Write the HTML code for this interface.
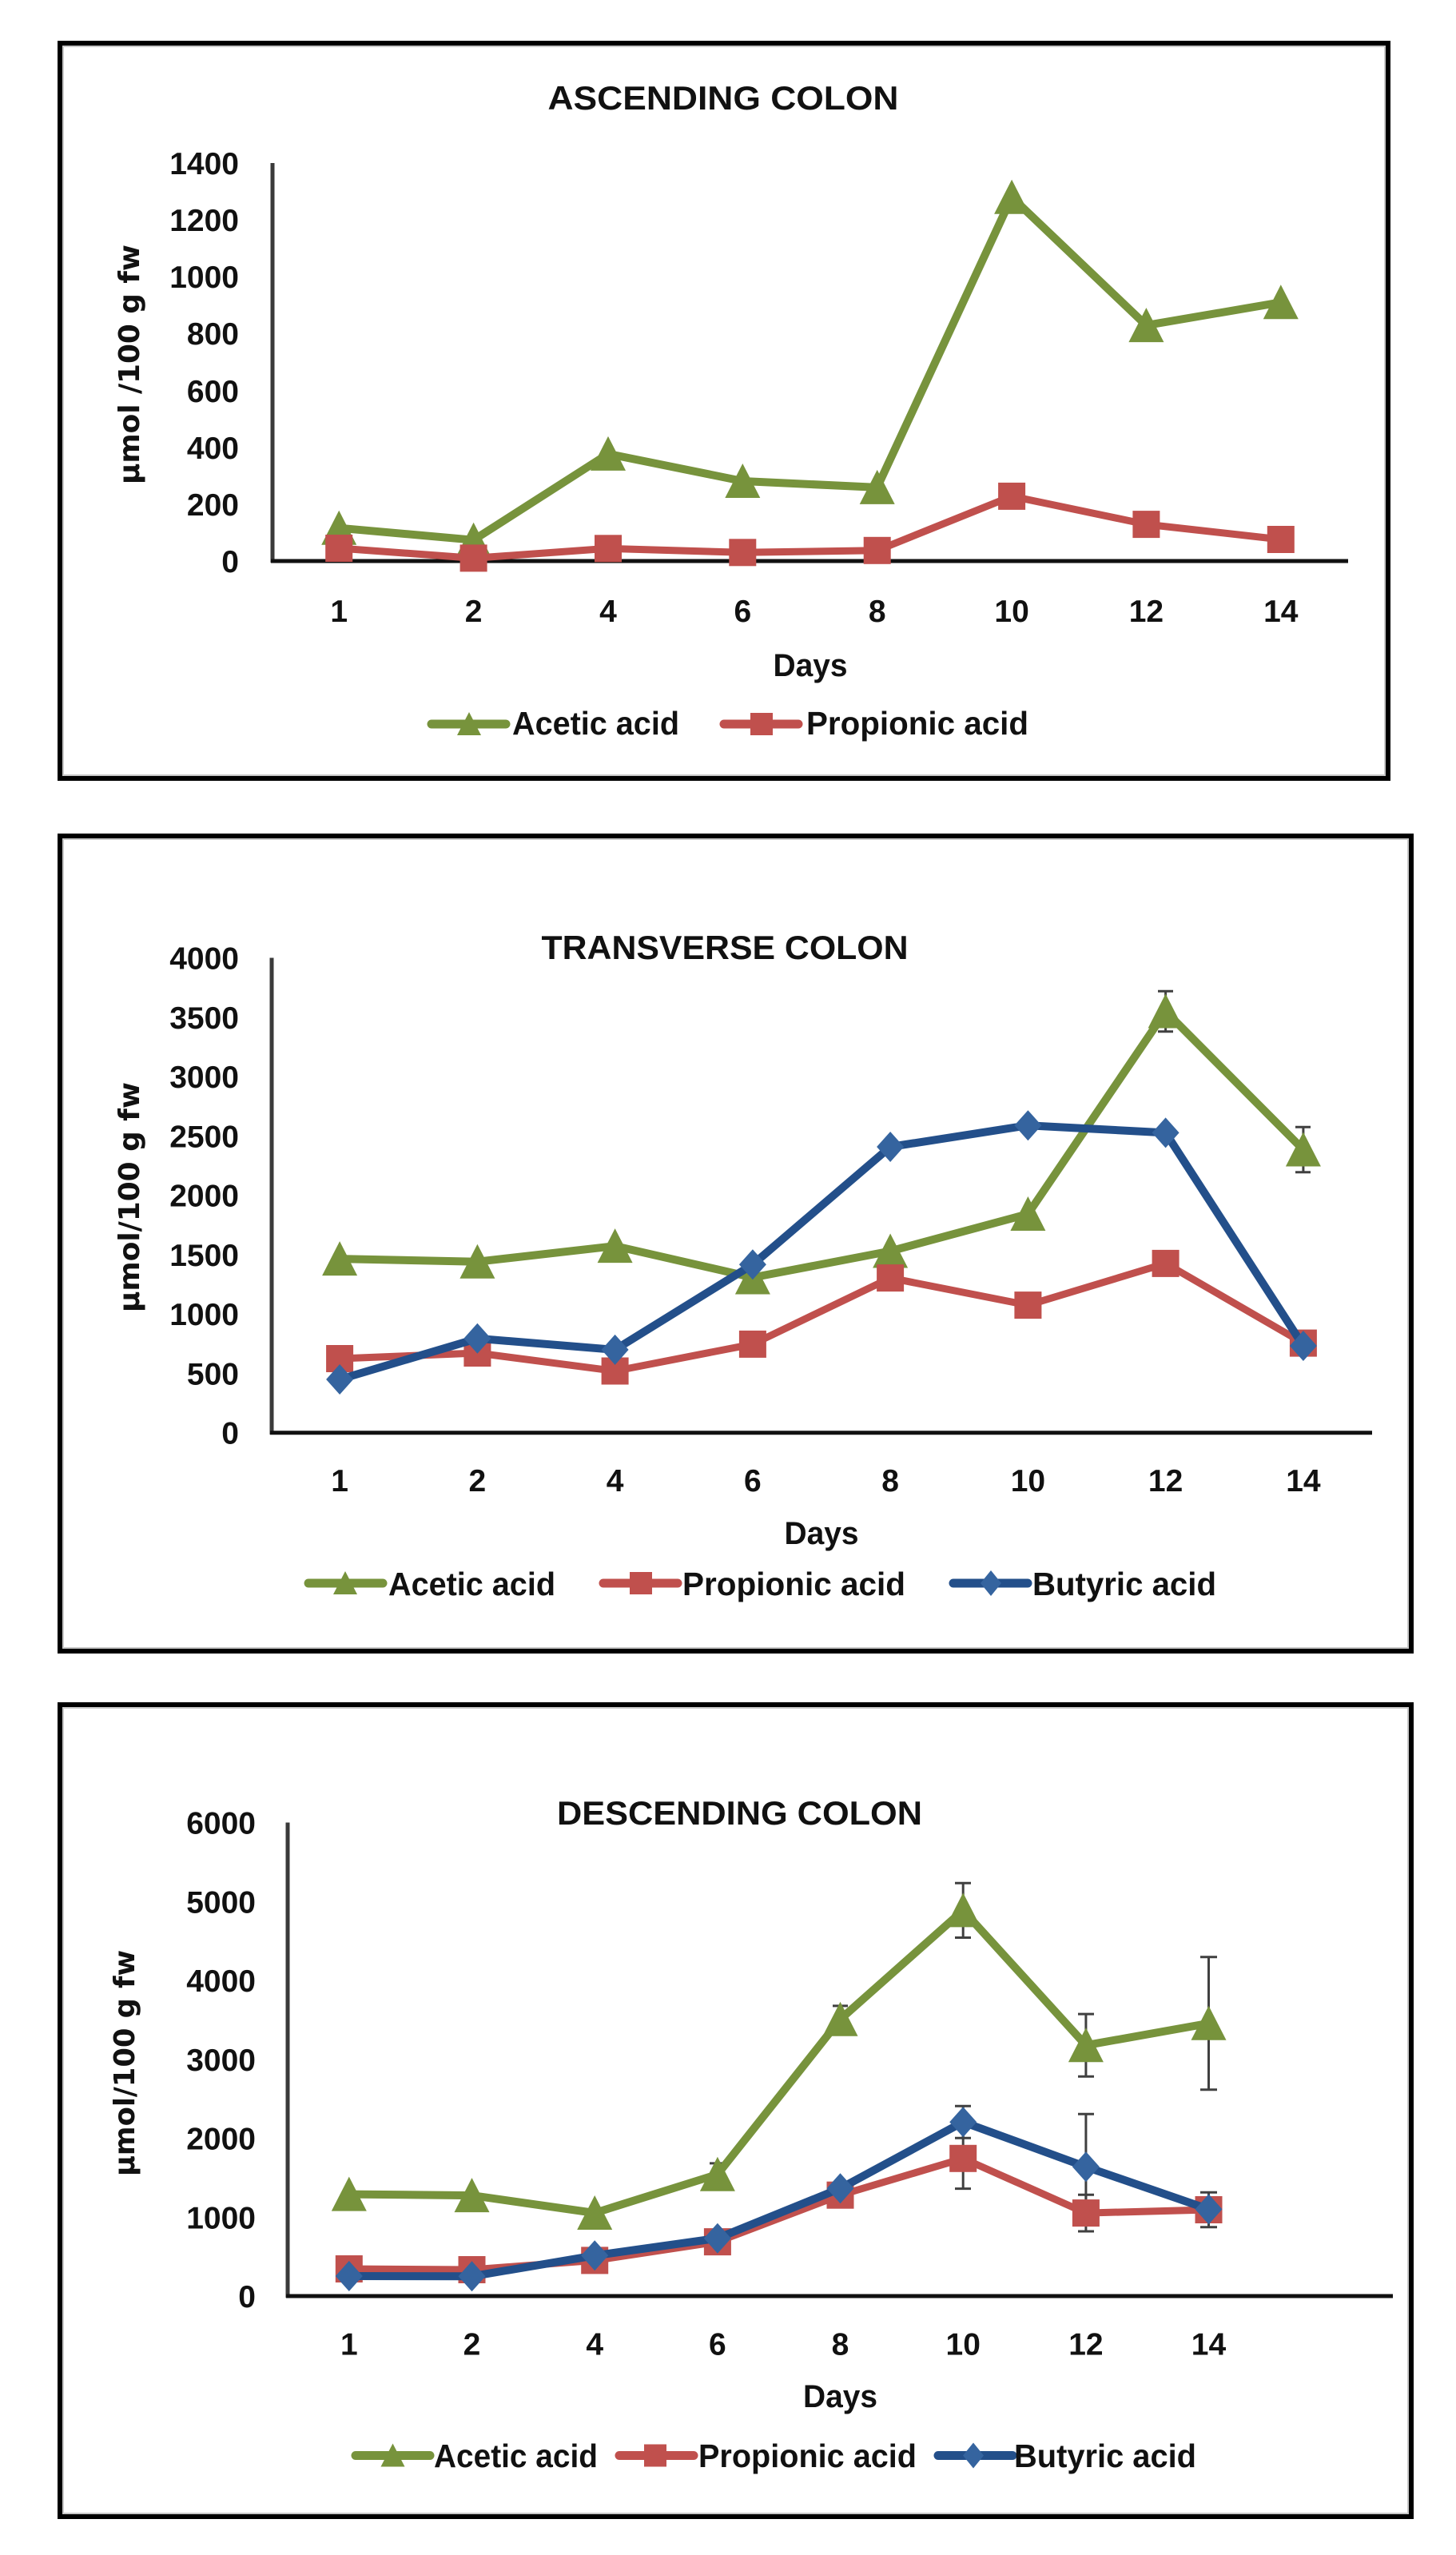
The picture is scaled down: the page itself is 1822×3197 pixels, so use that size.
<!DOCTYPE html>
<html>
<head>
<meta charset="utf-8">
<style>
html,body{margin:0;padding:0;background:#fff;}
svg{display:block;}
.t{font-family:"Liberation Sans",Arial,sans-serif;font-weight:bold;fill:#111;}
.yl{font-family:"DejaVu Sans","Liberation Sans",sans-serif;font-weight:bold;fill:#111;}
</style>
</head>
<body>
<svg width="1822" height="3197" viewBox="0 0 1822 3197" xmlns="http://www.w3.org/2000/svg">
<defs>
<path id="tri" d="M0,-22 L22,21 L-22,21Z"/>
<rect id="sq" x="-17" y="-17" width="34" height="34"/>
<path id="dia" d="M0,-19 L17,0 L0,19 L-17,0Z"/>
<path id="tril" d="M0,-15 L15,14 L-15,14Z"/>
<rect id="sql" x="-14" y="-14" width="28" height="28"/>
<path id="dial" d="M0,-16 L13,0 L0,16 L-13,0Z"/>
</defs>
<rect width="1822" height="3197" fill="#fff"/>

<!-- ================= PANEL 1 ================= -->
<rect x="79" y="58" width="1654" height="912" fill="none" stroke="#c8c8c8" stroke-width="2"/>
<rect x="75" y="54" width="1662" height="920" fill="none" stroke="#000" stroke-width="6"/>
<text class="t" x="905" y="137" font-size="42" text-anchor="middle" textLength="439" lengthAdjust="spacingAndGlyphs">ASCENDING COLON</text>
<line x1="341" y1="204" x2="341" y2="704" stroke="#3a3a3a" stroke-width="5"/>
<line x1="339" y1="702" x2="1687" y2="702" stroke="#111" stroke-width="5"/>
<g class="t" font-size="39" text-anchor="end">
<text x="299" y="716">0</text>
<text x="299" y="645">200</text>
<text x="299" y="574">400</text>
<text x="299" y="503">600</text>
<text x="299" y="431">800</text>
<text x="299" y="360">1000</text>
<text x="299" y="289">1200</text>
<text x="299" y="218">1400</text>
</g>
<g class="t" font-size="39" text-anchor="middle">
<text x="424.2" y="778">1</text>
<text x="592.6" y="778">2</text>
<text x="761.0" y="778">4</text>
<text x="929.3" y="778">6</text>
<text x="1097.7" y="778">8</text>
<text x="1266.1" y="778">10</text>
<text x="1434.4" y="778">12</text>
<text x="1602.8" y="778">14</text>
</g>
<text class="t" x="1014" y="846" font-size="40" text-anchor="middle" textLength="93" lengthAdjust="spacingAndGlyphs">Days</text>
<text class="yl" transform="translate(174,456) rotate(-90)" font-size="36" text-anchor="middle" textLength="300" lengthAdjust="spacingAndGlyphs">μmol /100 g fw</text>
<polyline points="424.2,660.7 592.6,675.7 761.0,567.9 929.3,602.0 1097.7,609.9 1266.1,246.7 1434.4,407.1 1602.8,378.3" fill="none" stroke="#77933C" stroke-width="10" stroke-linejoin="round"/>
<g fill="#77933C">
<use href="#tri" x="424.2" y="660.7"/><use href="#tri" x="592.6" y="675.7"/><use href="#tri" x="761.0" y="567.9"/><use href="#tri" x="929.3" y="602.0"/><use href="#tri" x="1097.7" y="609.9"/><use href="#tri" x="1266.1" y="246.7"/><use href="#tri" x="1434.4" y="407.1"/><use href="#tri" x="1602.8" y="378.3"/>
</g>
<polyline points="424.2,686.0 592.6,698.4 761.0,686.3 929.3,691.3 1097.7,688.8 1266.1,620.9 1434.4,656.1 1602.8,675.0" fill="none" stroke="#C0504D" stroke-width="9" stroke-linejoin="round"/>
<g fill="#C0504D">
<use href="#sq" x="424.2" y="686.0"/><use href="#sq" x="592.6" y="698.4"/><use href="#sq" x="761.0" y="686.3"/><use href="#sq" x="929.3" y="691.3"/><use href="#sq" x="1097.7" y="688.8"/><use href="#sq" x="1266.1" y="620.9"/><use href="#sq" x="1434.4" y="656.1"/><use href="#sq" x="1602.8" y="675.0"/>
</g>
<!-- legend 1 -->
<line x1="540" y1="906" x2="633" y2="906" stroke="#77933C" stroke-width="11" stroke-linecap="round"/>
<use href="#tril" x="587" y="906" fill="#77933C"/>
<text class="t" x="641" y="919" font-size="41" textLength="209" lengthAdjust="spacingAndGlyphs">Acetic acid</text>
<line x1="906" y1="906" x2="999" y2="906" stroke="#C0504D" stroke-width="11" stroke-linecap="round"/>
<use href="#sql" x="953" y="906" fill="#C0504D"/>
<text class="t" x="1009" y="919" font-size="41" textLength="278" lengthAdjust="spacingAndGlyphs">Propionic acid</text>

<!-- ================= PANEL 2 ================= -->
<rect x="79" y="1050" width="1683" height="1012" fill="none" stroke="#c8c8c8" stroke-width="2"/>
<rect x="75" y="1046" width="1691" height="1020" fill="none" stroke="#000" stroke-width="6"/>
<text class="t" x="907" y="1200" font-size="42" text-anchor="middle" textLength="459" lengthAdjust="spacingAndGlyphs">TRANSVERSE COLON</text>
<line x1="340" y1="1198.5" x2="340" y2="1795" stroke="#3a3a3a" stroke-width="5"/>
<line x1="338" y1="1792.7" x2="1717" y2="1792.7" stroke="#111" stroke-width="5"/>
<g class="t" font-size="39" text-anchor="end">
<text x="299" y="1806.7">0</text>
<text x="299" y="1732.5">500</text>
<text x="299" y="1658.2">1000</text>
<text x="299" y="1584">1500</text>
<text x="299" y="1509.7">2000</text>
<text x="299" y="1435.5">2500</text>
<text x="299" y="1361.2">3000</text>
<text x="299" y="1287">3500</text>
<text x="299" y="1212.7">4000</text>
</g>
<g class="t" font-size="39" text-anchor="middle">
<text x="425.1" y="1866">1</text>
<text x="597.4" y="1866">2</text>
<text x="769.6" y="1866">4</text>
<text x="941.9" y="1866">6</text>
<text x="1114.1" y="1866">8</text>
<text x="1286.4" y="1866">10</text>
<text x="1458.6" y="1866">12</text>
<text x="1630.9" y="1866">14</text>
</g>
<text class="t" x="1028" y="1932" font-size="40" text-anchor="middle" textLength="93" lengthAdjust="spacingAndGlyphs">Days</text>
<text class="yl" transform="translate(174,1498) rotate(-90)" font-size="36" text-anchor="middle" textLength="288" lengthAdjust="spacingAndGlyphs">μmol/100 g fw</text>
<g stroke="#404040" stroke-width="3" fill="none">
<path d="M1458.6,1240.3 V1290.7 M1449,1240.3 H1468 M1449,1290.7 H1468"/>
<path d="M1630.9,1410.3 V1466.7 M1621,1410.3 H1640 M1621,1466.7 H1640"/>
</g>
<polyline points="425.1,1575.1 597.4,1578.7 769.6,1559.1 941.9,1598.5 1114.1,1565.5 1286.4,1519.0 1458.6,1265.5 1630.9,1438.5" fill="none" stroke="#77933C" stroke-width="10" stroke-linejoin="round"/>
<g fill="#77933C">
<use href="#tri" x="425.1" y="1575.1"/><use href="#tri" x="597.4" y="1578.7"/><use href="#tri" x="769.6" y="1559.1"/><use href="#tri" x="941.9" y="1598.5"/><use href="#tri" x="1114.1" y="1565.5"/><use href="#tri" x="1286.4" y="1519.0"/><use href="#tri" x="1458.6" y="1265.5"/><use href="#tri" x="1630.9" y="1438.5"/>
</g>
<polyline points="425.1,1700.0 597.4,1693.0 769.6,1715.5 941.9,1681.9 1114.1,1599.1 1286.4,1633.1 1458.6,1580.9 1630.9,1680.6" fill="none" stroke="#C0504D" stroke-width="9" stroke-linejoin="round"/>
<g fill="#C0504D">
<use href="#sq" x="425.1" y="1700.0"/><use href="#sq" x="597.4" y="1693.0"/><use href="#sq" x="769.6" y="1715.5"/><use href="#sq" x="941.9" y="1681.9"/><use href="#sq" x="1114.1" y="1599.1"/><use href="#sq" x="1286.4" y="1633.1"/><use href="#sq" x="1458.6" y="1580.9"/><use href="#sq" x="1630.9" y="1680.6"/>
</g>
<polyline points="425.1,1726.0 597.4,1674.8 769.6,1688.9 941.9,1582.3 1114.1,1435.0 1286.4,1408.2 1458.6,1417.4 1630.9,1684.0" fill="none" stroke="#234F8A" stroke-width="10" stroke-linejoin="round"/>
<g fill="#35649F">
<use href="#dia" x="425.1" y="1726.0"/><use href="#dia" x="597.4" y="1674.8"/><use href="#dia" x="769.6" y="1688.9"/><use href="#dia" x="941.9" y="1582.3"/><use href="#dia" x="1114.1" y="1435.0"/><use href="#dia" x="1286.4" y="1408.2"/><use href="#dia" x="1458.6" y="1417.4"/><use href="#dia" x="1630.9" y="1684.0"/>
</g>
<!-- legend 2 -->
<line x1="386" y1="1981" x2="479" y2="1981" stroke="#77933C" stroke-width="11" stroke-linecap="round"/>
<use href="#tril" x="432" y="1981" fill="#77933C"/>
<text class="t" x="486" y="1996" font-size="41" textLength="209" lengthAdjust="spacingAndGlyphs">Acetic acid</text>
<line x1="755" y1="1981" x2="848" y2="1981" stroke="#C0504D" stroke-width="11" stroke-linecap="round"/>
<use href="#sql" x="802" y="1981" fill="#C0504D"/>
<text class="t" x="854" y="1996" font-size="41" textLength="279" lengthAdjust="spacingAndGlyphs">Propionic acid</text>
<line x1="1193" y1="1981" x2="1286" y2="1981" stroke="#234F8A" stroke-width="11" stroke-linecap="round"/>
<use href="#dial" x="1240" y="1981" fill="#35649F"/>
<text class="t" x="1292" y="1996" font-size="41" textLength="230" lengthAdjust="spacingAndGlyphs">Butyric acid</text>

<!-- ================= PANEL 3 ================= -->
<rect x="79" y="2137" width="1683" height="1008" fill="none" stroke="#c8c8c8" stroke-width="2"/>
<rect x="75" y="2133" width="1691" height="1016" fill="none" stroke="#000" stroke-width="6"/>
<text class="t" x="925.5" y="2283" font-size="42" text-anchor="middle" textLength="457" lengthAdjust="spacingAndGlyphs">DESCENDING COLON</text>
<line x1="360" y1="2280.5" x2="360" y2="2875" stroke="#3a3a3a" stroke-width="5"/>
<line x1="358" y1="2873" x2="1743" y2="2873" stroke="#111" stroke-width="5"/>
<g class="t" font-size="39" text-anchor="end">
<text x="320" y="2887">0</text>
<text x="320" y="2788.3">1000</text>
<text x="320" y="2689.5">2000</text>
<text x="320" y="2590.8">3000</text>
<text x="320" y="2492">4000</text>
<text x="320" y="2393.3">5000</text>
<text x="320" y="2294.5">6000</text>
</g>
<g class="t" font-size="39" text-anchor="middle">
<text x="436.8" y="2946.5">1</text>
<text x="590.5" y="2946.5">2</text>
<text x="744.2" y="2946.5">4</text>
<text x="897.9" y="2946.5">6</text>
<text x="1051.5" y="2946.5">8</text>
<text x="1205.2" y="2946.5">10</text>
<text x="1358.9" y="2946.5">12</text>
<text x="1512.5" y="2946.5">14</text>
</g>
<text class="t" x="1051.5" y="3012" font-size="40" text-anchor="middle" textLength="93" lengthAdjust="spacingAndGlyphs">Days</text>
<text class="yl" transform="translate(168,2581.5) rotate(-90)" font-size="36" text-anchor="middle" textLength="283" lengthAdjust="spacingAndGlyphs">μmol/100 g fw</text>
<g stroke="#404040" stroke-width="3" fill="none">
<path d="M897.9,2706.9 V2734.5 M888,2706.9 H908"/>
<path d="M1051.5,2509.9 V2543.5 M1042,2509.9 H1061"/>
<path d="M1205.2,2356.3 V2424.5 M1195,2356.3 H1215 M1195,2424.5 H1215"/>
<path d="M1358.9,2520.1 V2598.3 M1349,2520.1 H1369 M1349,2598.3 H1369"/>
<path d="M1512.5,2448.8 V2614.8 M1502,2448.8 H1523 M1502,2614.8 H1523"/>
<path d="M1205.2,2663.0 V2738.6 M1195,2738.6 H1215"/>
<path d="M1358.9,2746.2 V2792.0 M1349,2746.2 H1369 M1349,2792.0 H1369"/>
<path d="M1512.5,2743.3 V2786.7 M1502,2743.3 H1523 M1502,2786.7 H1523"/>
<path d="M1205.2,2635.2 V2675.2 M1195,2635.2 H1215 M1195,2675.2 H1215"/>
<path d="M1358.9,2645.2 V2777.4 M1349,2645.2 H1369"/>
</g>
<polyline points="436.8,2745.6 590.5,2747.1 744.2,2769.0 897.9,2720.7 1051.5,2526.7 1205.2,2390.4 1358.9,2559.2 1512.5,2531.8" fill="none" stroke="#77933C" stroke-width="10" stroke-linejoin="round"/>
<g fill="#77933C">
<use href="#tri" x="436.8" y="2745.6"/><use href="#tri" x="590.5" y="2747.1"/><use href="#tri" x="744.2" y="2769.0"/><use href="#tri" x="897.9" y="2720.7"/><use href="#tri" x="1051.5" y="2526.7"/><use href="#tri" x="1205.2" y="2390.4"/><use href="#tri" x="1358.9" y="2559.2"/><use href="#tri" x="1512.5" y="2531.8"/>
</g>
<polyline points="436.8,2839.0 590.5,2840.0 744.2,2828.4 897.9,2805.1 1051.5,2746.7 1205.2,2700.8 1358.9,2769.1 1512.5,2765.0" fill="none" stroke="#C0504D" stroke-width="9" stroke-linejoin="round"/>
<g fill="#C0504D">
<use href="#sq" x="436.8" y="2839.0"/><use href="#sq" x="590.5" y="2840.0"/><use href="#sq" x="744.2" y="2828.4"/><use href="#sq" x="897.9" y="2805.1"/><use href="#sq" x="1051.5" y="2746.7"/><use href="#sq" x="1205.2" y="2700.8"/><use href="#sq" x="1358.9" y="2769.1"/><use href="#sq" x="1512.5" y="2765.0"/>
</g>
<polyline points="436.8,2848.0 590.5,2848.3 744.2,2822.3 897.9,2800.7 1051.5,2738.3 1205.2,2655.2 1358.9,2711.3 1512.5,2764.4" fill="none" stroke="#234F8A" stroke-width="10" stroke-linejoin="round"/>
<g fill="#35649F">
<use href="#dia" x="436.8" y="2848.0"/><use href="#dia" x="590.5" y="2848.3"/><use href="#dia" x="744.2" y="2822.3"/><use href="#dia" x="897.9" y="2800.7"/><use href="#dia" x="1051.5" y="2738.3"/><use href="#dia" x="1205.2" y="2655.2"/><use href="#dia" x="1358.9" y="2711.3"/><use href="#dia" x="1512.5" y="2764.4"/>
</g>
<!-- legend 3 -->
<line x1="445" y1="3072.5" x2="538" y2="3072.5" stroke="#77933C" stroke-width="11" stroke-linecap="round"/>
<use href="#tril" x="491.5" y="3072.5" fill="#77933C"/>
<text class="t" x="543" y="3087" font-size="41" textLength="205" lengthAdjust="spacingAndGlyphs">Acetic acid</text>
<line x1="775" y1="3072.5" x2="868" y2="3072.5" stroke="#C0504D" stroke-width="11" stroke-linecap="round"/>
<use href="#sql" x="820" y="3072.5" fill="#C0504D"/>
<text class="t" x="874" y="3087" font-size="41" textLength="273" lengthAdjust="spacingAndGlyphs">Propionic acid</text>
<line x1="1174" y1="3072.5" x2="1267" y2="3072.5" stroke="#234F8A" stroke-width="11" stroke-linecap="round"/>
<use href="#dial" x="1218" y="3072.5" fill="#35649F"/>
<text class="t" x="1269" y="3087" font-size="41" textLength="228" lengthAdjust="spacingAndGlyphs">Butyric acid</text>
</svg>
</body>
</html>
